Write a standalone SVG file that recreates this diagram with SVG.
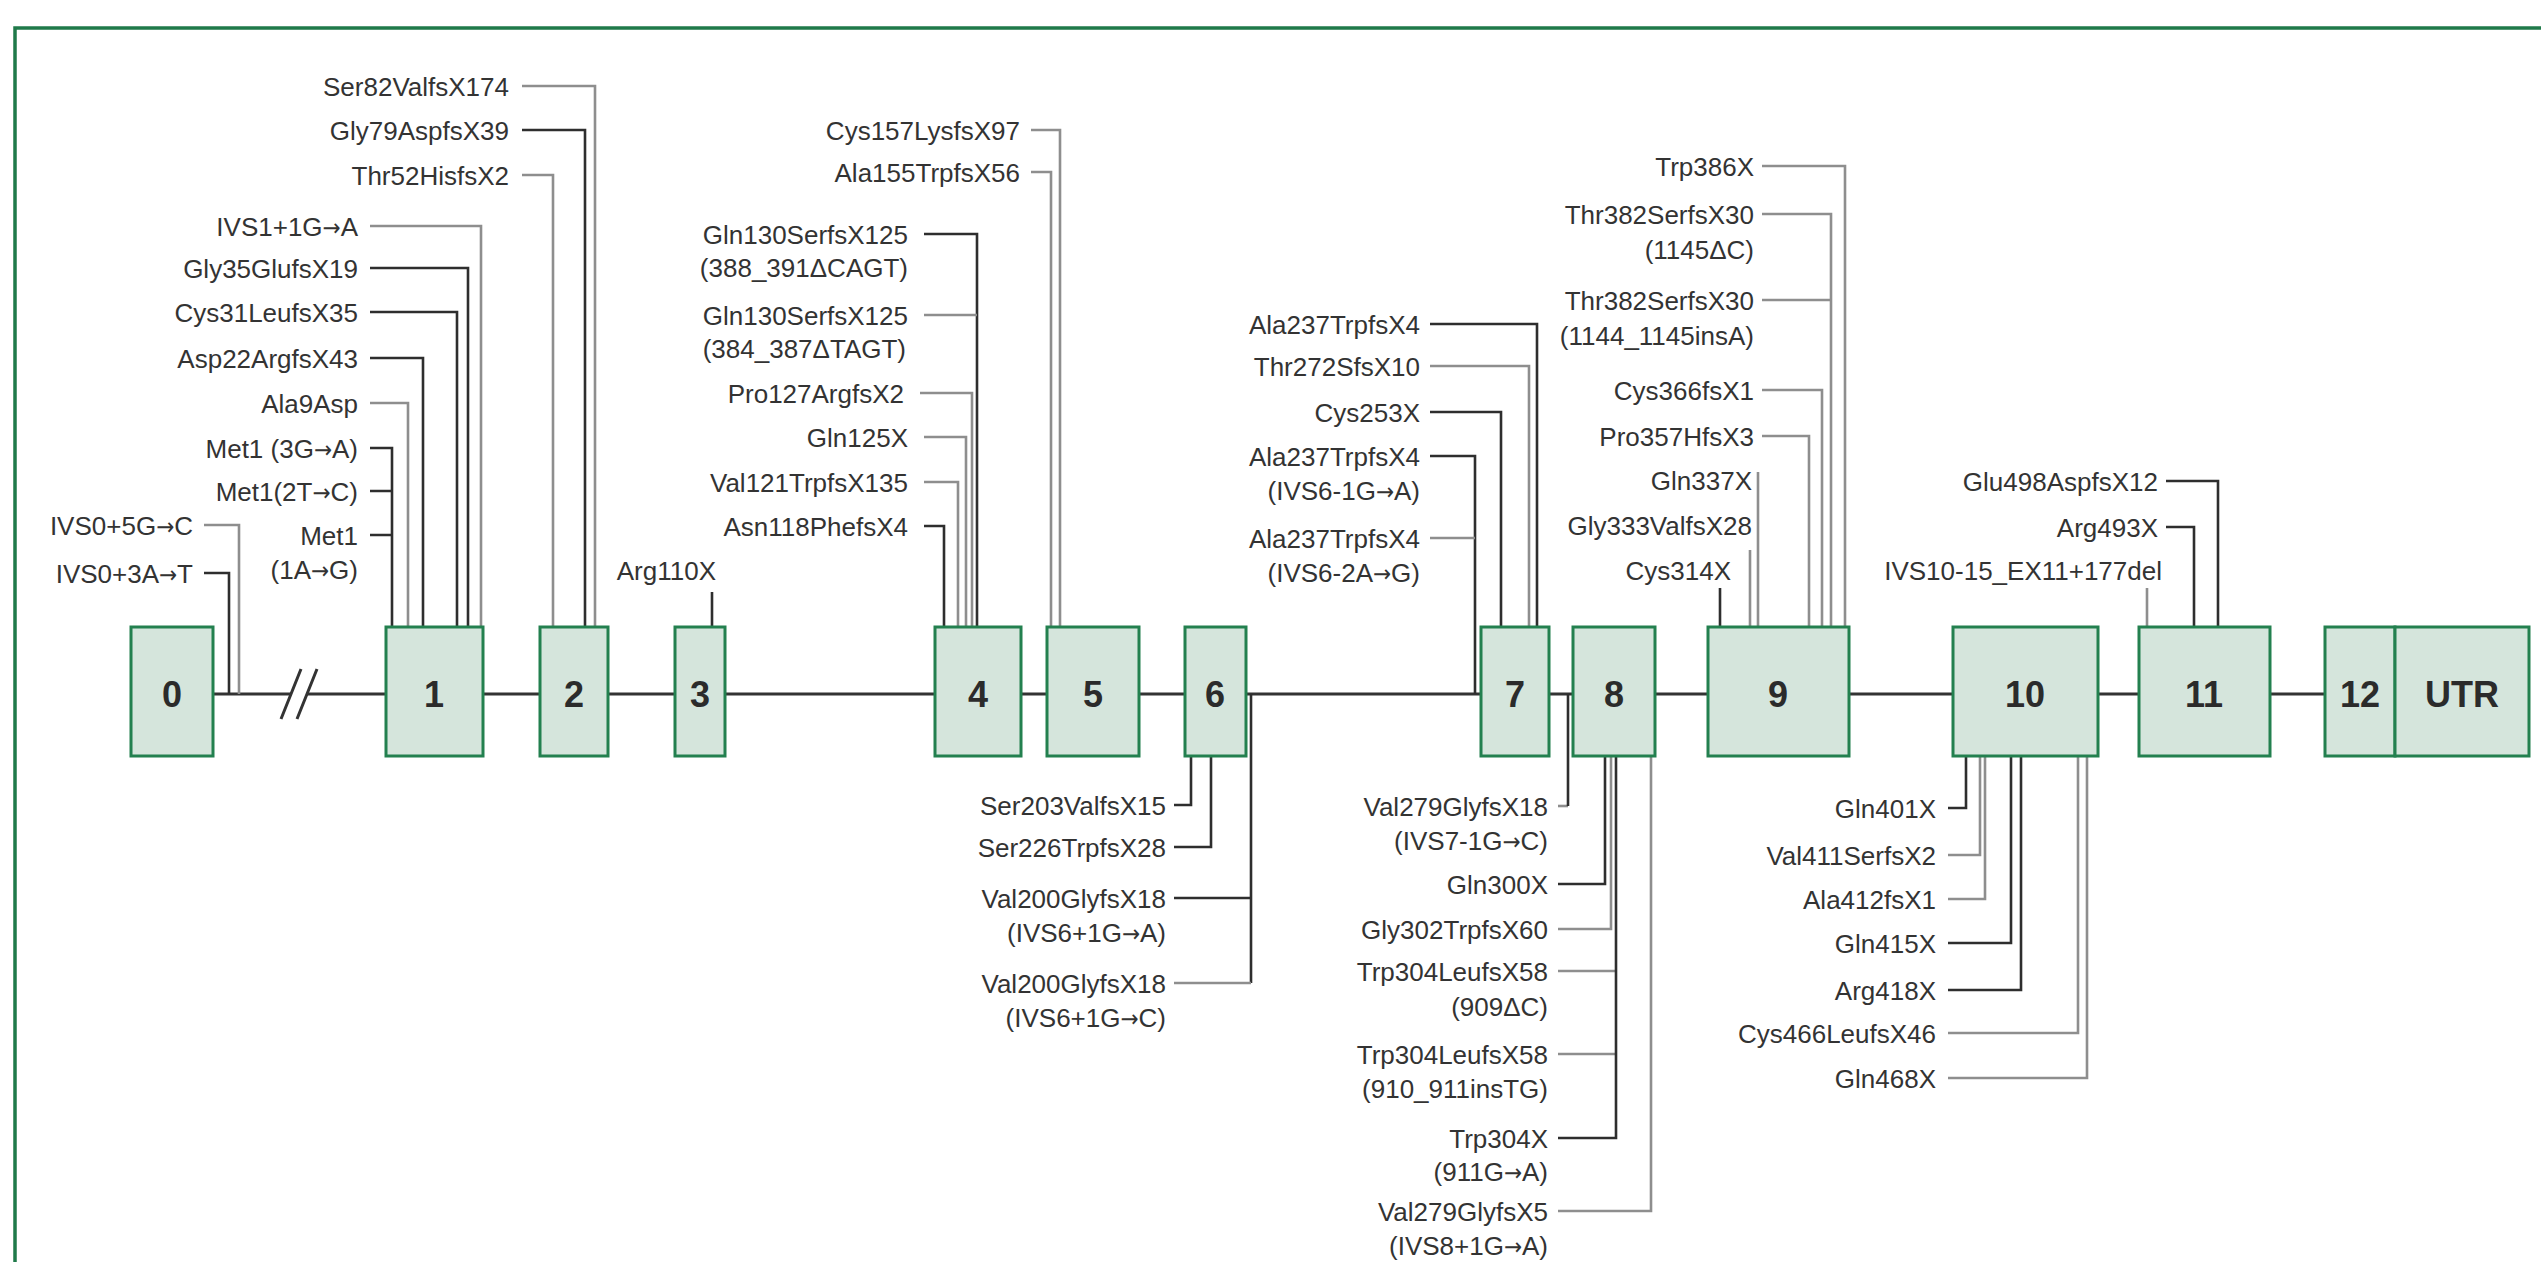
<svg xmlns="http://www.w3.org/2000/svg" width="2541" height="1262" viewBox="0 0 2541 1262">
<style>
.lbl{font-family:'Liberation Sans',Arial,sans-serif;font-size:26px;fill:#333;text-anchor:end}
.ar{font-family:'DejaVu Sans Condensed','DejaVu Sans',sans-serif;font-size:24px}
.ex{font-family:'Liberation Sans',Arial,sans-serif;font-size:36px;font-weight:bold;fill:#2b2b2b;text-anchor:middle}
.box{fill:#d5e5dc;stroke:#23804f;stroke-width:3}
.dk{fill:none;stroke:#2e2e2e;stroke-width:2.6}
.gr{fill:none;stroke:#8e8e8e;stroke-width:2.6}
.bb{fill:none;stroke:#333;stroke-width:3}
</style>
<rect x="0" y="0" width="2541" height="1262" fill="#fff"/>
<path d="M15,1262 V28 H2541" fill="none" stroke="#1f7a4a" stroke-width="3.5"/>

<g id="backbone">
<path class="bb" d="M213,694 H291 M307,694 H2325"/>
<path class="bb" stroke-width="2" d="M281,719 L301,669 M297,719 L317,669"/>
</g>

<g id="connectors">
<path class="gr" d="M204,525 H239 V694"/>
<path class="dk" d="M204,573 H229 V694"/>
<path class="gr" d="M370,226 H481 V627"/>
<path class="dk" d="M370,268 H468 V627"/>
<path class="dk" d="M370,312 H457 V627"/>
<path class="dk" d="M370,358 H423 V627"/>
<path class="gr" d="M370,403 H408 V627"/>
<path class="dk" d="M370,448 H392 V627 M370,491 H392 M370,535 H392"/>
<path class="gr" d="M522,86 H595 V627"/>
<path class="dk" d="M522,130 H585 V627"/>
<path class="gr" d="M522,175 H553 V627"/>
<path class="dk" d="M712,592 V627"/>
<path class="dk" d="M924,234 H977 V627"/>
<path class="gr" d="M924,315 H977"/>
<path class="gr" d="M920,393 H972 V627"/>
<path class="gr" d="M924,437 H966 V627"/>
<path class="gr" d="M924,482 H958 V627"/>
<path class="dk" d="M924,526 H944 V627"/>
<path class="gr" d="M1031,130 H1060 V627"/>
<path class="gr" d="M1031,172 H1051 V627"/>
<path class="dk" d="M1174,805 H1191 V756"/>
<path class="dk" d="M1174,847 H1211 V756"/>
<path class="dk" d="M1174,898 H1251 M1251,694 V983"/>
<path class="gr" d="M1174,983 H1251"/>
<path class="dk" d="M1430,324 H1537 V627"/>
<path class="gr" d="M1430,366 H1529 V627"/>
<path class="dk" d="M1430,412 H1501 V627"/>
<path class="dk" d="M1430,456 H1475 V694"/>
<path class="gr" d="M1430,538 H1475"/>
<path class="gr" d="M1558,806 H1568"/>
<path class="dk" d="M1568,694 V806"/>
<path class="dk" d="M1558,884 H1605 V756"/>
<path class="gr" d="M1558,929 H1611 V756"/>
<path class="gr" d="M1558,971 H1616 M1558,1054 H1616"/>
<path class="dk" d="M1558,1138 H1616 V756"/>
<path class="gr" d="M1558,1211 H1651 V756"/>
<path class="gr" d="M1762,166 H1845 V627"/>
<path class="gr" d="M1762,214 H1831 V627 M1762,300 H1831"/>
<path class="gr" d="M1762,390 H1822 V627"/>
<path class="gr" d="M1762,436 H1809 V627"/>
<path class="gr" d="M1758,472 V627"/>
<path class="gr" d="M1750,550 V627"/>
<path class="dk" d="M1720,588 V627"/>
<path class="dk" d="M1948,808 H1966 V756"/>
<path class="gr" d="M1948,855 H1980 V756"/>
<path class="gr" d="M1948,899 H1985 V756"/>
<path class="dk" d="M1948,943 H2011 V756"/>
<path class="dk" d="M1948,990 H2021 V756"/>
<path class="gr" d="M1948,1033 H2078 V756"/>
<path class="gr" d="M1948,1078 H2087 V756"/>
<path class="dk" d="M2166,481 H2218 V627"/>
<path class="dk" d="M2166,527 H2194 V627"/>
<path class="gr" d="M2147,588 V627"/>
</g>

<g id="exon0"><rect class="box" x="131" y="627" width="82" height="129"/><text class="ex" x="172" y="707">0</text></g>
<g id="exon1"><rect class="box" x="386" y="627" width="97" height="129"/><text class="ex" x="434" y="707">1</text></g>
<g id="exon2"><rect class="box" x="540" y="627" width="68" height="129"/><text class="ex" x="574" y="707">2</text></g>
<g id="exon3"><rect class="box" x="675" y="627" width="50" height="129"/><text class="ex" x="700" y="707">3</text></g>
<g id="exon4"><rect class="box" x="935" y="627" width="86" height="129"/><text class="ex" x="978" y="707">4</text></g>
<g id="exon5"><rect class="box" x="1047" y="627" width="92" height="129"/><text class="ex" x="1093" y="707">5</text></g>
<g id="exon6"><rect class="box" x="1185" y="627" width="61" height="129"/><text class="ex" x="1215" y="707">6</text></g>
<g id="exon7"><rect class="box" x="1481" y="627" width="68" height="129"/><text class="ex" x="1515" y="707">7</text></g>
<g id="exon8"><rect class="box" x="1573" y="627" width="82" height="129"/><text class="ex" x="1614" y="707">8</text></g>
<g id="exon9"><rect class="box" x="1708" y="627" width="141" height="129"/><text class="ex" x="1778" y="707">9</text></g>
<g id="exon10"><rect class="box" x="1953" y="627" width="145" height="129"/><text class="ex" x="2025" y="707">10</text></g>
<g id="exon11"><rect class="box" x="2139" y="627" width="131" height="129"/><text class="ex" x="2204" y="707">11</text></g>
<g id="exon12"><rect class="box" x="2325" y="627" width="70" height="129"/><text class="ex" x="2360" y="707">12</text></g>
<g id="utr"><rect class="box" x="2395" y="627" width="134" height="129"/><text class="ex" x="2462" y="707">UTR</text></g>

<g id="labels">
<text id="m-ivs0-5" class="lbl" x="193" y="535">IVS0+5G<tspan class="ar">→</tspan>C</text>
<text id="m-ivs0-3" class="lbl" x="193" y="583">IVS0+3A<tspan class="ar">→</tspan>T</text>

<text id="m-ivs1" class="lbl" x="358" y="236">IVS1+1G<tspan class="ar">→</tspan>A</text>
<text id="m-gly35" class="lbl" x="358" y="278">Gly35GlufsX19</text>
<text id="m-cys31" class="lbl" x="358" y="322">Cys31LeufsX35</text>
<text id="m-asp22" class="lbl" x="358" y="368">Asp22ArgfsX43</text>
<text id="m-ala9" class="lbl" x="358" y="413">Ala9Asp</text>
<text id="m-met1a" class="lbl" x="358" y="458">Met1 (3G<tspan class="ar">→</tspan>A)</text>
<text id="m-met1b" class="lbl" x="358" y="501">Met1(2T<tspan class="ar">→</tspan>C)</text>
<text id="m-met1c" class="lbl" x="358" y="545">Met1<tspan x="358" dy="34">(1A</tspan><tspan class="ar">→</tspan>G)</text>

<text id="m-ser82" class="lbl" x="509" y="96">Ser82ValfsX174</text>
<text id="m-gly79" class="lbl" x="509" y="140">Gly79AspfsX39</text>
<text id="m-thr52" class="lbl" x="509" y="185">Thr52HisfsX2</text>

<text id="m-arg110" class="lbl" x="716" y="580">Arg110X</text>

<text id="m-gln130a" class="lbl" x="908" y="244">Gln130SerfsX125<tspan x="908" dy="33">(388_391ΔCAGT)</tspan></text>
<text id="m-gln130b" class="lbl" x="908" y="325">Gln130SerfsX125<tspan x="906" dy="33">(384_387ΔTAGT)</tspan></text>
<text id="m-pro127" class="lbl" x="904" y="403">Pro127ArgfsX2</text>
<text id="m-gln125" class="lbl" x="908" y="447">Gln125X</text>
<text id="m-val121" class="lbl" x="908" y="492">Val121TrpfsX135</text>
<text id="m-asn118" class="lbl" x="908" y="536">Asn118PhefsX4</text>

<text id="m-cys157" class="lbl" x="1020" y="140">Cys157LysfsX97</text>
<text id="m-ala155" class="lbl" x="1020" y="182">Ala155TrpfsX56</text>

<text id="m-ser203" class="lbl" x="1166" y="815">Ser203ValfsX15</text>
<text id="m-ser226" class="lbl" x="1166" y="857">Ser226TrpfsX28</text>
<text id="m-val200a" class="lbl" x="1166" y="908">Val200GlyfsX18<tspan x="1166" dy="34">(IVS6+1G</tspan><tspan class="ar">→</tspan>A)</text>
<text id="m-val200b" class="lbl" x="1166" y="993">Val200GlyfsX18<tspan x="1166" dy="34">(IVS6+1G</tspan><tspan class="ar">→</tspan>C)</text>

<text id="m-ala237a" class="lbl" x="1420" y="334">Ala237TrpfsX4</text>
<text id="m-thr272" class="lbl" x="1420" y="376">Thr272SfsX10</text>
<text id="m-cys253" class="lbl" x="1420" y="422">Cys253X</text>
<text id="m-ala237b" class="lbl" x="1420" y="466">Ala237TrpfsX4<tspan x="1420" dy="34">(IVS6-1G</tspan><tspan class="ar">→</tspan>A)</text>
<text id="m-ala237c" class="lbl" x="1420" y="548">Ala237TrpfsX4<tspan x="1420" dy="34">(IVS6-2A</tspan><tspan class="ar">→</tspan>G)</text>

<text id="m-val279a" class="lbl" x="1548" y="816">Val279GlyfsX18<tspan x="1548" dy="34">(IVS7-1G</tspan><tspan class="ar">→</tspan>C)</text>
<text id="m-gln300" class="lbl" x="1548" y="894">Gln300X</text>
<text id="m-gly302" class="lbl" x="1548" y="939">Gly302TrpfsX60</text>
<text id="m-trp304a" class="lbl" x="1548" y="981">Trp304LeufsX58<tspan x="1548" dy="35">(909ΔC)</tspan></text>
<text id="m-trp304b" class="lbl" x="1548" y="1064">Trp304LeufsX58<tspan x="1548" dy="34">(910_911insTG)</tspan></text>
<text id="m-trp304c" class="lbl" x="1548" y="1148">Trp304X<tspan x="1548" dy="33">(911G</tspan><tspan class="ar">→</tspan>A)</text>
<text id="m-val279b" class="lbl" x="1548" y="1221">Val279GlyfsX5<tspan x="1548" dy="34">(IVS8+1G</tspan><tspan class="ar">→</tspan>A)</text>

<text id="m-trp386" class="lbl" x="1754" y="176">Trp386X</text>
<text id="m-thr382a" class="lbl" x="1754" y="224">Thr382SerfsX30<tspan x="1754" dy="35">(1145ΔC)</tspan></text>
<text id="m-thr382b" class="lbl" x="1754" y="310">Thr382SerfsX30<tspan x="1754" dy="35">(1144_1145insA)</tspan></text>
<text id="m-cys366" class="lbl" x="1754" y="400">Cys366fsX1</text>
<text id="m-pro357" class="lbl" x="1754" y="446">Pro357HfsX3</text>
<text id="m-gln337" class="lbl" x="1752" y="490">Gln337X</text>
<text id="m-gly333" class="lbl" x="1752" y="535">Gly333ValfsX28</text>
<text id="m-cys314" class="lbl" x="1731" y="580">Cys314X</text>

<text id="m-gln401" class="lbl" x="1936" y="818">Gln401X</text>
<text id="m-val411" class="lbl" x="1936" y="865">Val411SerfsX2</text>
<text id="m-ala412" class="lbl" x="1936" y="909">Ala412fsX1</text>
<text id="m-gln415" class="lbl" x="1936" y="953">Gln415X</text>
<text id="m-arg418" class="lbl" x="1936" y="1000">Arg418X</text>
<text id="m-cys466" class="lbl" x="1936" y="1043">Cys466LeufsX46</text>
<text id="m-gln468" class="lbl" x="1936" y="1088">Gln468X</text>

<text id="m-glu498" class="lbl" x="2158" y="491">Glu498AspfsX12</text>
<text id="m-arg493" class="lbl" x="2158" y="537">Arg493X</text>
<text id="m-ivs10" class="lbl" x="2162" y="580">IVS10-15_EX11+177del</text>
</g>
</svg>
